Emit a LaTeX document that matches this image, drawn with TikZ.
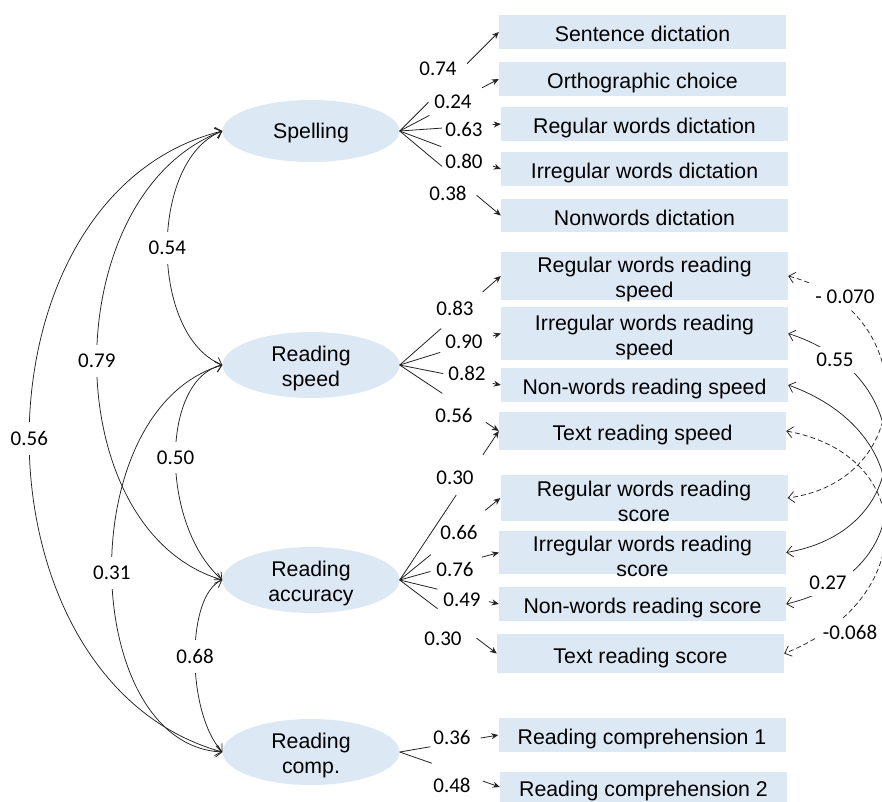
\documentclass[tikz,border=0pt]{standalone}
\usepackage{fontspec}
\setmainfont{Liberation Sans}
\newfontfamily\numfont{Carlito}
\usetikzlibrary{arrows.meta,calc,shapes.geometric}
\definecolor{boxblue}{RGB}{221,232,245}
\definecolor{ink}{RGB}{35,35,35}
\newcommand\loadarrow[4]{%
  \draw[ldline] (#1) -- ($(#1)!#3!(#2)$);
  \draw[ldline,-{Stealth[length=7pt,width=6pt]}] ($(#1)!#4!(#2)$) -- (#2);}
\newcommand\topstrut{\rule[-4.5pt]{0pt}{28pt}}
\newcommand\ltopstrut{\rule[-4.5pt]{0pt}{24.5pt}}
\newcommand\botstrut{\rule[-4.5pt]{0pt}{4.5pt}}
\begin{document}
\begin{tikzpicture}[x=1pt,y=-1pt,
  obs/.style={draw=none, fill=boxblue, minimum width=287pt, inner sep=0pt, align=center,
    font=\fontsize{21.3}{25}\selectfont, execute at begin node=\topstrut, execute at end node=\botstrut},
  twotext/.style={align=center, inner sep=0pt, font=\fontsize{21.3}{25}\selectfont, yshift=-3.5pt},
  obstwo/.style={draw=none, fill=boxblue, minimum width=287pt, inner sep=0pt,
    label={[twotext]center:{#1}}},
  lat/.style={ellipse, fill=boxblue, minimum width=177pt, inner sep=0pt},
  lattext/.style={align=center, inner sep=0pt, font=\fontsize{21.3}{25}\selectfont,
    execute at begin node=\ltopstrut, execute at end node=\botstrut},
  ldline/.style={draw=ink, line width=0.8pt},
  num/.style={font=\numfont\fontsize{21}{25}\selectfont, inner sep=1pt},
  cov/.style={draw=ink, line width=0.75pt, {Straight Barb[length=6pt,width=11pt]}-{Straight Barb[length=6pt,width=11pt]}},
  covlbl/.style={num, fill=white, inner xsep=2pt, inner ysep=9pt},
  rlbl/.style={num, fill=white, inner sep=6pt},
  dsh/.style={dash pattern=on 5pt off 3pt},
]
\path[use as bounding box, fill=white] (0,0) rectangle (882,801);
\clip (0,0) rectangle (882,801);

% latent variables
\node[lat, minimum height=62pt, label={[lattext]center:Spelling}] (sp) at (311,131) {};
\node[lat, minimum height=66pt, label={[twotext, yshift=0.5pt]center:{Reading\\speed}}] (rs) at (311,365) {};
\node[lat, minimum height=66pt, label={[twotext, yshift=0.5pt]center:{Reading\\accuracy}}] (ra) at (311,580) {};
\node[lat, minimum height=66pt, label={[twotext, yshift=0.5pt]center:{Reading\\comp.}}] (rc) at (311,752) {};

% observed variables
\node[obs, minimum height=34pt] (b1) at (642.5,32) {Sentence dictation};
\node[obs, minimum height=34pt] (b2) at (642.5,79) {Orthographic choice};
\node[obs, minimum height=34pt] (b3) at (644.5,124) {Regular words dictation};
\node[obs, minimum height=34pt] (b4) at (644.5,169) {Irregular words dictation};
\node[obs, minimum height=33pt] (b5) at (644.5,215.5) {Nonwords dictation};
\node[obstwo={Regular words reading\\speed}, minimum height=48pt] (b6) at (644.5,276) {};
\node[obstwo={Irregular words reading\\speed}, minimum height=53pt] (b7) at (644.5,333.5) {};
\node[obs, minimum height=34pt] (b8) at (644.5,385) {Non-words reading speed};
\node[obs, minimum height=38pt] (b9) at (642.5,431) {Text reading speed};
\node[obstwo={Regular words reading\\score}, minimum height=46pt] (b10) at (644,498) {};
\node[obstwo={Irregular words reading\\score}, minimum height=43pt] (b11) at (642.5,552.5) {};
\node[obs, minimum height=34pt] (b12) at (642.5,604) {Non-words reading score};
\node[obs, minimum height=39pt] (b13) at (640.5,653.5) {Text reading score};
\node[obs, minimum height=34pt] (b14) at (642,735) {Reading comprehension 1};
\node[obs, minimum height=30pt] (b15) at (643.5,787) {Reading comprehension 2};

% loadings
\loadarrow{sp.east}{b1.west}{0.29}{0.68}
\loadarrow{sp.east}{b2.west}{0.30}{0.83}
\loadarrow{sp.east}{b3.west}{0.42}{0.92}
\loadarrow{sp.east}{b4.west}{0.41}{0.92}
\loadarrow{sp.east}{b5.west}{0.42}{0.76}
\loadarrow{rs.east}{b6.west}{0.41}{0.82}
\loadarrow{rs.east}{b7.west}{0.40}{0.92}
\loadarrow{rs.east}{b8.west}{0.43}{0.92}
\loadarrow{rs.east}{b9.west}{0.43}{0.87}
\loadarrow{ra.east}{b9.west}{0.57}{0.84}
\loadarrow{ra.east}{b10.west}{0.31}{0.85}
\loadarrow{ra.east}{b11.west}{0.31}{0.83}
\loadarrow{ra.east}{b12.west}{0.38}{0.90}
\loadarrow{ra.east}{b13.west}{0.39}{0.79}
\loadarrow{rc.east}{b14.west}{0.31}{0.82}
\loadarrow{rc.east}{b15.west}{0.32}{0.83}

\node[num] (l1) at (438,69) {0.74};
\node[num] (l2) at (453,102) {0.24};
\node[num] (l3) at (464,129) {0.63};
\node[num] (l4) at (464,161) {0.80};
\node[num] (l5) at (448,193) {0.38};
\node[num] (l6) at (455,308) {0.83};
\node[num] (l7) at (464,342) {0.90};
\node[num] (l8) at (467,373) {0.82};
\node[num] (l9) at (454,415) {0.56};
\node[num] (l10) at (455,478) {0.30};
\node[num] (l11) at (459,532) {0.66};
\node[num] (l12) at (455,569) {0.76};
\node[num] (l13) at (462,600) {0.49};
\node[num] (l14) at (443,639) {0.30};
\node[num] (l15) at (452,737) {0.36};
\node[num] (l16) at (452,785) {0.48};

% factor covariances (left)
\draw[cov] (sp.west) .. controls (149,160) and (149,335) .. node[covlbl] (c1) {0.54} (rs.west);
\draw[cov] (sp.west) .. controls (55,195) and (55,530) .. node[covlbl] (c2) {0.79} (ra.west);
\draw[cov] (sp.west) .. controls (-35,195) and (-35,680) .. node[covlbl] (c3) {0.56} (rc.west);
\draw[cov] (rs.west) .. controls (160,380) and (160,525) .. node[covlbl] (c4) {0.50} (ra.west);
\draw[cov] (rs.west) .. controls (70,410) and (80,745) .. node[covlbl] (c5) {0.31} (rc.west);
\draw[cov] (ra.west) .. controls (186,595) and (186,712) .. node[covlbl] (c6) {0.68} (rc.west);

% residual covariances (right)
\draw[cov,dsh] (b6.east) .. controls (919,310) and (919,480) .. (b10.east);
\draw[cov] (b7.east) .. controls (919,375) and (919,530) .. (b11.east);
\draw[cov] (b8.east) .. controls (919,432) and (919,572) .. (b12.east);
\draw[cov,dsh] (b9.east) .. controls (919,455) and (919,600) .. (b13.east);
\node[rlbl] (r1) at (845,297) {- 0.070};
\node[rlbl] (r2) at (835,360) {0.55};
\node[rlbl] (r3) at (828,583) {0.27};
\node[rlbl] (r4) at (850,632) {-0.068};
\end{tikzpicture}
\end{document}
